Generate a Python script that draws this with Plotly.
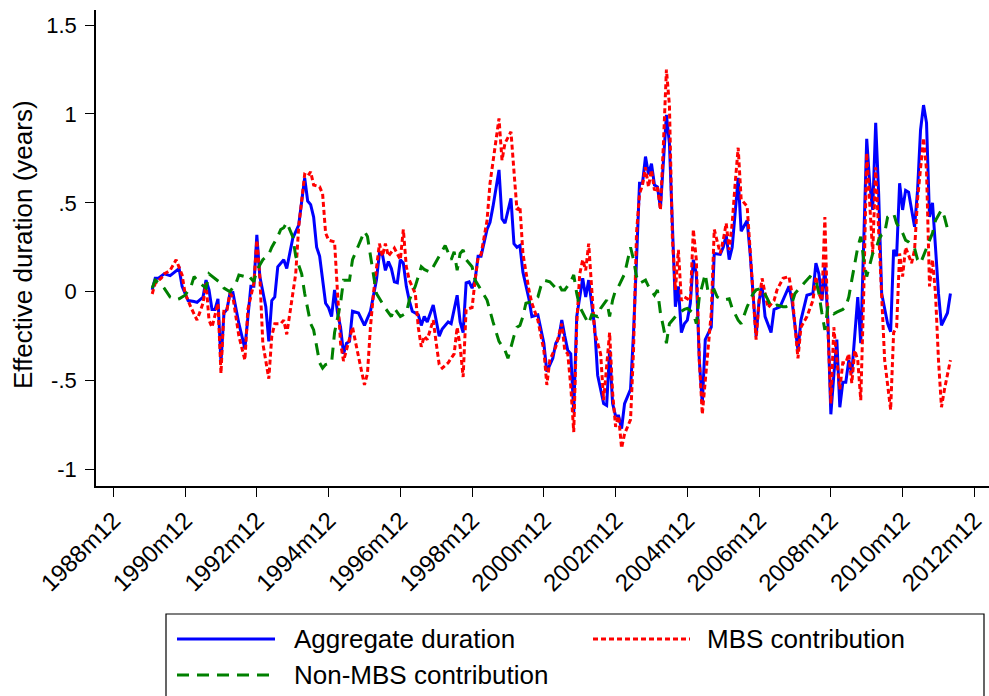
import plotly.graph_objects as go

# ---------------------------------------------------------------
# Effective duration of the aggregate portfolio and its components
# (monthly, Stata-style month labels)
# ---------------------------------------------------------------
agg_dates = [
    "1990m1", "1990m2", "1990m3", "1990m4", "1990m5", "1990m7", "1990m10", "1990m11",
    "1991m1", "1991m3", "1991m4", "1991m6", "1991m7", "1991m8", "1991m9", "1991m10", "1991m11", "1991m12",
    "1992m1", "1992m2", "1992m3", "1992m4", "1992m6", "1992m8", "1992m10", "1992m11", "1992m12",
    "1993m1", "1993m3", "1993m4", "1993m5", "1993m6", "1993m7", "1993m9", "1993m10", "1993m12",
    "1994m2", "1994m4", "1994m5", "1994m6", "1994m7", "1994m8", "1994m9", "1994m11", "1994m12",
    "1995m1", "1995m2", "1995m3", "1995m4", "1995m5", "1995m6", "1995m7", "1995m8", "1995m10", "1995m12",
    "1996m2", "1996m3", "1996m4", "1996m5", "1996m6", "1996m7", "1996m8", "1996m9", "1996m10", "1996m11", "1996m12",
    "1997m1", "1997m2", "1997m3", "1997m4", "1997m6", "1997m7", "1997m8", "1997m9", "1997m11",
    "1998m1", "1998m2", "1998m4", "1998m5", "1998m7", "1998m8", "1998m9", "1998m10", "1998m11", "1998m12",
    "1999m1", "1999m2", "1999m3", "1999m5", "1999m6", "1999m7", "1999m9", "1999m10", "1999m11",
    "2000m1", "2000m2", "2000m3", "2000m4", "2000m5", "2000m7", "2000m8", "2000m10", "2000m12",
    "2001m1", "2001m3", "2001m4", "2001m5", "2001m6", "2001m7", "2001m8", "2001m9", "2001m10", "2001m11",
    "2002m1", "2002m2", "2002m3", "2002m5", "2002m6", "2002m8", "2002m9", "2002m10", "2002m11", "2002m12",
    "2003m1", "2003m2", "2003m3", "2003m5", "2003m6", "2003m7", "2003m8", "2003m9", "2003m10", "2003m11", "2003m12",
    "2004m1", "2004m2", "2004m3", "2004m4", "2004m5", "2004m6", "2004m7", "2004m8", "2004m9", "2004m10", "2004m11", "2004m12",
    "2005m1", "2005m2", "2005m3", "2005m4", "2005m5", "2005m6", "2005m8", "2005m9", "2005m11", "2005m12",
    "2006m1", "2006m2", "2006m3", "2006m4", "2006m5", "2006m6", "2006m8", "2006m9", "2006m10", "2006m11", "2006m12",
    "2007m1", "2007m2", "2007m4", "2007m5", "2007m7", "2007m10", "2007m11",
    "2008m1", "2008m2", "2008m4", "2008m6", "2008m7", "2008m8", "2008m9", "2008m10", "2008m11", "2008m12",
    "2009m1", "2009m2", "2009m3", "2009m4", "2009m5", "2009m6", "2009m7", "2009m9", "2009m10", "2009m12",
    "2010m1", "2010m2", "2010m3", "2010m4", "2010m5", "2010m7", "2010m8", "2010m9", "2010m10", "2010m11", "2010m12",
    "2011m1", "2011m2", "2011m4", "2011m5", "2011m6", "2011m7", "2011m8", "2011m9", "2011m10", "2011m11", "2011m12",
    "2012m1", "2012m3", "2012m4",
]
agg_vals = [
    0.01, 0.075, 0.075, 0.09, 0.10, 0.09, 0.13, 0.03,
    -0.05, -0.055, -0.06, -0.03, 0.065, 0.01, -0.10, -0.10, -0.04, -0.40,
    -0.12, -0.10, -0.01, -0.005, -0.18, -0.32, 0.03, 0.03, 0.32,
    0.085, -0.085, -0.28, -0.05, -0.03, 0.14, 0.18, 0.13, 0.30,
    0.375, 0.64, 0.51, 0.49, 0.42, 0.25, 0.20, -0.065, -0.09,
    -0.14, 0.01, -0.12, -0.20, -0.35, -0.29, -0.28, -0.11, -0.12, -0.19,
    -0.11, -0.01, 0.065, 0.215, 0.21, 0.12, 0.17, 0.13, 0.055, 0.05, 0.18,
    0.16, 0.03, -0.05, -0.11, -0.13, -0.19, -0.14, -0.17, -0.075,
    -0.25, -0.21, -0.17, -0.18, -0.02, -0.17, -0.23, 0.05, 0.055, 0.02,
    0.065, 0.20, 0.20, 0.35, 0.39, 0.48, 0.685, 0.41, 0.385,
    0.525, 0.27, 0.25, 0.26, 0.11, -0.04, -0.14, -0.13, -0.29,
    -0.45, -0.375, -0.29, -0.26, -0.16, -0.25, -0.33, -0.35, -0.68, -0.14,
    0.075, -0.03, 0.065, -0.20, -0.47, -0.63, -0.64, -0.33, -0.63, -0.70,
    -0.70, -0.77, -0.63, -0.55, -0.23, 0.18, 0.61, 0.61, 0.76, 0.66, 0.72,
    0.60, 0.59, 0.47, 0.77, 0.995, 0.835, 0.40, -0.085, 0.03, -0.23, -0.18, -0.16,
    -0.065, 0.18, 0.10, -0.385, -0.63, -0.27, -0.20, 0.215, 0.21, 0.25,
    0.32, 0.18, 0.25, 0.46, 0.64, 0.34, 0.40, 0.215, -0.01, -0.25, -0.05,
    0.03, -0.14, -0.23, -0.10, -0.085, 0.03, -0.05,
    -0.33, -0.16, -0.02, -0.01, 0.16, 0.10, -0.05, 0.14, -0.16, -0.69,
    -0.47, -0.27, -0.65, -0.51, -0.51, -0.385, -0.46, -0.03, -0.29, 0.86,
    0.61, 0.46, 0.95, 0.55, -0.01, -0.18, -0.225, 0.235, 0.20, 0.61, 0.46,
    0.57, 0.56, 0.365, 0.57, 0.91, 1.05, 0.95, 0.42, 0.50, 0.25, -0.01,
    -0.19, -0.12, -0.01,
]

mbs_dates = [
    "1990m1", "1990m2", "1990m4", "1990m5", "1990m7", "1990m9", "1990m11", "1990m12",
    "1991m2", "1991m4", "1991m6", "1991m7", "1991m8", "1991m9", "1991m11", "1991m12",
    "1992m1", "1992m2", "1992m3", "1992m4", "1992m6", "1992m8", "1992m9", "1992m11", "1992m12",
    "1993m1", "1993m2", "1993m4", "1993m5", "1993m6", "1993m8", "1993m9", "1993m10", "1993m12",
    "1994m1", "1994m2", "1994m4", "1994m5", "1994m6", "1994m7", "1994m9", "1994m10", "1994m11", "1994m12",
    "1995m2", "1995m3", "1995m4", "1995m5", "1995m7", "1995m8", "1995m10", "1995m12",
    "1996m1", "1996m2", "1996m3", "1996m5", "1996m6", "1996m7", "1996m8", "1996m10", "1996m12",
    "1997m1", "1997m2", "1997m3", "1997m5", "1997m6", "1997m7", "1997m8", "1997m9", "1997m11", "1997m12",
    "1998m1", "1998m2", "1998m4", "1998m6", "1998m7", "1998m8", "1998m9", "1998m10", "1998m12",
    "1999m1", "1999m2", "1999m3", "1999m5", "1999m6", "1999m7", "1999m8", "1999m9", "1999m10", "1999m11",
    "2000m1", "2000m2", "2000m3", "2000m4", "2000m5", "2000m7", "2000m8", "2000m10", "2000m12",
    "2001m1", "2001m2", "2001m4", "2001m5", "2001m6", "2001m7", "2001m8", "2001m9", "2001m10", "2001m11", "2001m12",
    "2002m1", "2002m2", "2002m3", "2002m4", "2002m5", "2002m7", "2002m8", "2002m9", "2002m10", "2002m11", "2002m12",
    "2003m1", "2003m2", "2003m3", "2003m5", "2003m6", "2003m7", "2003m8", "2003m9", "2003m10", "2003m11", "2003m12",
    "2004m1", "2004m2", "2004m3", "2004m4", "2004m5", "2004m6", "2004m7", "2004m8", "2004m9", "2004m10", "2004m11",
    "2005m1", "2005m2", "2005m3", "2005m4", "2005m5", "2005m7", "2005m8", "2005m9", "2005m11", "2005m12",
    "2006m1", "2006m2", "2006m3", "2006m4", "2006m5", "2006m6", "2006m8", "2006m9", "2006m10", "2006m11", "2006m12",
    "2007m1", "2007m2", "2007m3", "2007m5", "2007m6", "2007m8", "2007m10", "2007m11", "2007m12",
    "2008m1", "2008m2", "2008m4", "2008m6", "2008m7", "2008m8", "2008m9", "2008m10", "2008m11", "2008m12",
    "2009m1", "2009m2", "2009m3", "2009m4", "2009m5", "2009m6", "2009m7", "2009m8", "2009m9", "2009m10", "2009m11", "2009m12",
    "2010m1", "2010m2", "2010m3", "2010m4", "2010m5", "2010m6", "2010m8", "2010m9", "2010m10", "2010m11", "2010m12",
    "2011m1", "2011m3", "2011m4", "2011m5", "2011m7", "2011m8", "2011m9", "2011m10", "2011m11", "2011m12",
    "2012m1", "2012m2", "2012m4",
]
mbs_vals = [
    -0.013, 0.047, 0.075, 0.10, 0.12, 0.18, 0.094, -0.01,
    -0.09, -0.16, -0.065, 0.047, -0.16, -0.20, -0.065, -0.46,
    -0.10, -0.10, -0.01, -0.03, -0.25, -0.385, -0.10, 0.047, 0.29,
    0.085, -0.29, -0.49, -0.25, -0.18, -0.18, -0.16, -0.24, -0.03,
    0.10, 0.365, 0.66, 0.65, 0.675, 0.60, 0.59, 0.55, 0.33, 0.29,
    0.28, -0.01, -0.29, -0.39, -0.27, -0.20, -0.365, -0.525,
    -0.46, -0.20, -0.01, 0.27, 0.20, 0.27, 0.20, 0.245, 0.18,
    0.35, 0.14, 0.065, -0.01, -0.20, -0.31, -0.25, -0.27, -0.16, -0.29,
    -0.41, -0.43, -0.40, -0.35, -0.20, -0.31, -0.48, -0.10, -0.09,
    0.065, 0.19, 0.21, 0.40, 0.61, 0.74, 0.87, 0.975, 0.74, 0.835,
    0.90, 0.685, 0.46, 0.48, 0.215, 0.01, -0.065, -0.16, -0.33,
    -0.525, -0.385, -0.31, -0.25, -0.18, -0.33, -0.35, -0.53, -0.79, -0.18, 0.10,
    0.18, 0.12, 0.27, -0.01, -0.23, -0.35, -0.61, -0.42, -0.23, -0.57, -0.76,
    -0.70, -0.88, -0.80, -0.72, -0.33, 0.33, 0.55, 0.60, 0.70, 0.59, 0.685,
    0.57, 0.59, 0.46, 0.835, 1.25, 1.05, 0.30, 0.01, 0.235, -0.05, -0.03,
    -0.05, 0.35, 0.18, -0.385, -0.69, -0.33, -0.12, 0.35, 0.215, 0.29,
    0.385, 0.235, 0.385, 0.61, 0.81, 0.52, 0.48, 0.235, -0.05, -0.27, -0.05,
    0.075, -0.01, -0.09, -0.05, 0.01, 0.075, 0.085, -0.01, -0.20,
    -0.375, -0.20, -0.14, -0.05, 0.085, -0.01, -0.05, 0.42, -0.20, -0.63,
    -0.20, -0.385, -0.55, -0.40, -0.40, -0.35, -0.515, -0.33, -0.385, -0.61, -0.01, 0.78,
    0.46, 0.215, 0.70, 0.365, -0.01, -0.385, -0.665, -0.23, -0.20, 0.215, 0.085,
    0.25, 0.16, 0.235, 0.52, 0.865, 0.685, 0.03, 0.18, -0.01, -0.385,
    -0.65, -0.55, -0.385,
]

non_dates = [
    "1990m1", "1990m2", "1990m4", "1990m5", "1990m7", "1990m9", "1990m10", "1990m12",
    "1991m2", "1991m3", "1991m5", "1991m7", "1991m8", "1991m10", "1991m12",
    "1992m1", "1992m3", "1992m5", "1992m6", "1992m8", "1992m9", "1992m11", "1992m12",
    "1993m2", "1993m4", "1993m5", "1993m7", "1993m8", "1993m9", "1993m10", "1993m12",
    "1994m1", "1994m3", "1994m4", "1994m6", "1994m7", "1994m8", "1994m9", "1994m10", "1994m11",
    "1995m1", "1995m2", "1995m4", "1995m5", "1995m7", "1995m8", "1995m10", "1995m12",
    "1996m1", "1996m2", "1996m3", "1996m4", "1996m6", "1996m7", "1996m9", "1996m10", "1996m12",
    "1997m2", "1997m3", "1997m5", "1997m6", "1997m7", "1997m8", "1997m10", "1997m12",
    "1998m2", "1998m3", "1998m5", "1998m6", "1998m7", "1998m8", "1998m9", "1998m10", "1998m12",
    "1999m1", "1999m3", "1999m5", "1999m7", "1999m8", "1999m9", "1999m11", "1999m12",
    "2000m2", "2000m3", "2000m4", "2000m5", "2000m6", "2000m8", "2000m10", "2000m11", "2000m12",
    "2001m2", "2001m4", "2001m5", "2001m6", "2001m7", "2001m9", "2001m10", "2001m11", "2001m12",
    "2002m2", "2002m3", "2002m4", "2002m6", "2002m7", "2002m9", "2002m10", "2002m11", "2002m12",
    "2003m1", "2003m3", "2003m5", "2003m6", "2003m7", "2003m8", "2003m10", "2003m11",
    "2004m1", "2004m2", "2004m3", "2004m4", "2004m5", "2004m6", "2004m8", "2004m9", "2004m11", "2004m12",
    "2005m2", "2005m3", "2005m4", "2005m6", "2005m7", "2005m9", "2005m10", "2005m12",
    "2006m2", "2006m3", "2006m5", "2006m6", "2006m8", "2006m10", "2006m11",
    "2007m1", "2007m3", "2007m4", "2007m6", "2007m8", "2007m9", "2007m11", "2007m12",
    "2008m2", "2008m4", "2008m5", "2008m7", "2008m8", "2008m9", "2008m10", "2008m11",
    "2009m1", "2009m2", "2009m4", "2009m5", "2009m6", "2009m7", "2009m8", "2009m9", "2009m10", "2009m11", "2009m12",
    "2010m2", "2010m3", "2010m4", "2010m5", "2010m6", "2010m7", "2010m9", "2010m10", "2010m12",
    "2011m1", "2011m2", "2011m4", "2011m5", "2011m6", "2011m7", "2011m9", "2011m10", "2011m11",
    "2012m1", "2012m2", "2012m3", "2012m4",
]
non_vals = [
    0.02, 0.065, 0.04, 0.02, -0.03, -0.045, -0.04, -0.02,
    0.03, 0.085, 0.047, 0.02, 0.10, 0.075, 0.047,
    0.02, 0.0, 0.047, 0.094, 0.085, 0.094, 0.056, 0.12,
    0.18, 0.21, 0.25, 0.31, 0.35, 0.36, 0.39, 0.31,
    0.20, 0.10, -0.01, -0.18, -0.215, -0.31, -0.40, -0.43, -0.41,
    -0.40, -0.23, -0.065, 0.065, 0.065, 0.18, 0.26, 0.34,
    0.31, 0.20, 0.085, -0.01, -0.065, -0.094, -0.14, -0.094, -0.14,
    -0.12, -0.047, 0.03, 0.085, 0.14, 0.125, 0.11, 0.17,
    0.235, 0.26, 0.18, 0.225, 0.12, 0.215, 0.235, 0.18, 0.14,
    0.065, 0.01, -0.047, -0.17, -0.23, -0.28, -0.33, -0.375,
    -0.25, -0.20, -0.19, -0.14, -0.065, -0.056, -0.03, 0.03, 0.065,
    0.056, 0.02, 0.04, 0.01, 0.01, 0.056, 0.094, -0.01, -0.085,
    -0.15, -0.18, -0.13, -0.14, -0.094, -0.047, -0.14, -0.047, 0.01,
    0.03, 0.10, 0.25, 0.18, 0.085, 0.047, 0.065, 0.03,
    -0.02, 0.01, -0.12, -0.20, -0.29, -0.18, -0.14, -0.12, -0.10, -0.094,
    -0.12, -0.18, -0.03, 0.10, -0.01, 0.01, -0.03, -0.047,
    -0.04, -0.094, -0.16, -0.18, -0.085, -0.01, 0.01,
    0.02, -0.047, -0.085, -0.075, -0.085, -0.085, -0.065, -0.01,
    0.03, 0.065, 0.085, 0.065, -0.01, -0.12, -0.215, -0.085,
    -0.125, -0.115, -0.10, -0.085, -0.03, 0.065, 0.16, 0.25, 0.31, 0.18, 0.085,
    0.215, 0.235, 0.29, 0.32, 0.33, 0.42, 0.44, 0.385, 0.33,
    0.29, 0.28, 0.245, 0.18, 0.16, 0.20, 0.29, 0.33, 0.40,
    0.46, 0.42, 0.355, 0.375,
]

x_tick_labels = ["1988m12", "1990m12", "1992m12", "1994m12", "1996m12", "1998m12",
                 "2000m12", "2002m12", "2004m12", "2006m12", "2008m12", "2010m12", "2012m12"]
y_tick_vals = [-1, -0.5, 0, 0.5, 1, 1.5]
y_tick_text = ["-1", "-.5", "0", ".5", "1", "1.5"]

series_names = ["Aggregate duration", "MBS contribution", "Non-MBS contribution"]
series_colors = ["#0000ff", "#ff0000", "#008000"]
series_dash = ["solid", "5px,3px", "12px,8px"]


def month_index(label):
    """Stata-style monthly date (e.g. '1994m3') -> running month count."""
    year, month = label.split("m")
    return int(year) * 12 + int(month) - 1


FONT = "Liberation Sans, Arial, Helvetica, sans-serif"
W, H = 989, 696
M_L, M_R, M_T, M_B = 96, 0, 10, 210

fig = go.Figure()
for name, dates, vals, color, dash in zip(
        series_names,
        [agg_dates, mbs_dates, non_dates],
        [agg_vals, mbs_vals, non_vals],
        series_colors, series_dash):
    fig.add_trace(go.Scatter(
        x=[month_index(d) for d in dates], y=vals, mode="lines", name=name,
        line=dict(color=color, width=3, dash=dash), showlegend=False,
    ))

x0 = month_index("1988m12")
fig.update_xaxes(
    range=[x0 - 5.8, x0 + 292.9],
    tickvals=[month_index(t) for t in x_tick_labels], ticktext=x_tick_labels,
    tickangle=-45, ticks="outside", ticklen=9, tickwidth=1.3, tickcolor="#000",
    showline=True, linecolor="#000", linewidth=1.6, showgrid=False, zeroline=False,
    tickfont=dict(family=FONT, size=24, color="#000"),
)
fig.update_yaxes(
    range=[-1.0934, 1.585],
    tickvals=y_tick_vals, ticktext=y_tick_text,
    ticks="outside", ticklen=9, tickwidth=1.3, tickcolor="#000",
    showline=True, linecolor="#000", linewidth=1.6, showgrid=False, zeroline=False,
    tickfont=dict(family=FONT, size=22, color="#000"),
    ticklabelstandoff=4,
)

plot_w = W - M_L - M_R
plot_h = H - M_T - M_B


def px_x(p):
    return (p - M_L) / plot_w


def px_y(p):
    return (H - M_B - p) / plot_h


# Axis title
annotations = [dict(
    text="Effective duration (years)", textangle=-90,
    x=px_x(23), y=px_y(245), xref="paper", yref="paper",
    xanchor="center", yanchor="middle", showarrow=False,
    font=dict(family=FONT, size=26, color="#000"),
)]

# Legend box with two columns
shapes = [dict(type="rect", xref="paper", yref="paper",
               x0=px_x(166), x1=px_x(984), y0=px_y(614), y1=px_y(720),
               line=dict(color="#000", width=1.2), fillcolor="rgba(0,0,0,0)")]
legend_slots = [(177, 275, 292, 639), (593, 690, 705, 639), (177, 275, 292, 675)]
for (lx0, lx1, tx, ty), name, color, dash in zip(legend_slots, series_names,
                                                  series_colors, series_dash):
    shapes.append(dict(type="line", xref="paper", yref="paper",
                       x0=px_x(lx0), x1=px_x(lx1), y0=px_y(ty), y1=px_y(ty),
                       line=dict(color=color, width=3, dash=dash)))
    annotations.append(dict(text=name, x=px_x(tx), y=px_y(ty), xref="paper", yref="paper",
                            xanchor="left", yanchor="middle", showarrow=False,
                            font=dict(family=FONT, size=26, color="#000")))

fig.update_layout(
    width=W, height=H,
    margin=dict(l=M_L, r=M_R, t=M_T, b=M_B, autoexpand=False),
    paper_bgcolor="white", plot_bgcolor="white",
    shapes=shapes, annotations=annotations,
    showlegend=False,
)

fig.write_html("out.html")
